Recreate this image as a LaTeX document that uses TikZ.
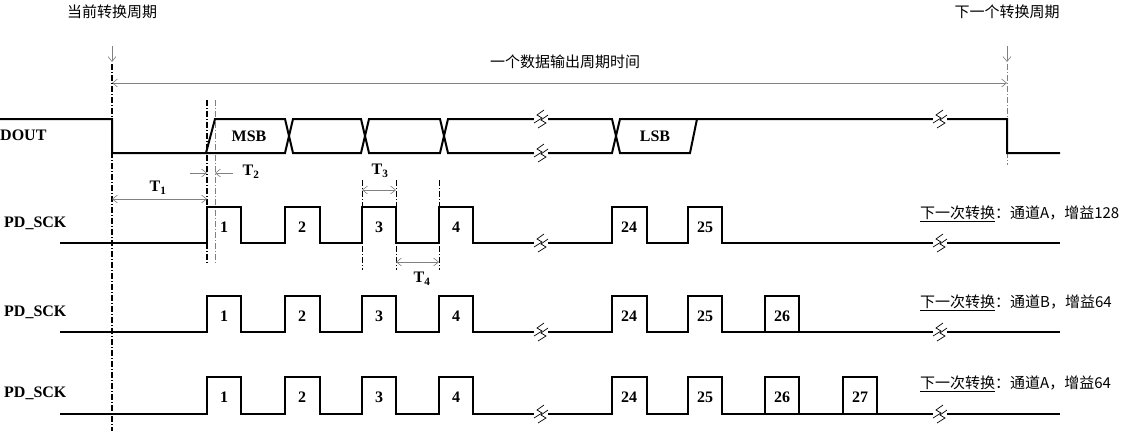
\documentclass[tikz,border=0pt]{standalone}
\usepackage{fontspec}
\setmainfont{Liberation Serif}
\newfontfamily\cjk{Noto Sans CJK SC}
\usetikzlibrary{arrows.meta}
\begin{document}
\begin{tikzpicture}[x=1pt,y=-1pt,
  sig/.style={line width=2pt,line join=miter},
  dim/.style={gray,line width=0.6pt,{Straight Barb[length=5pt,width=8pt]}-{Straight Barb[length=5pt,width=8pt]}},
  onearr/.style={gray,line width=0.6pt,-{Straight Barb[length=5pt,width=8pt]}},
  dd/.style={line width=0.6pt,dash pattern=on 6pt off 2pt on 1pt off 2pt},
  lbl/.style={font=\bfseries\fontsize{16}{16}\selectfont,inner sep=0pt},
  cn/.style={font=\cjk\fontsize{15}{15}\selectfont,inner sep=0pt},
  brk/.pic={\fill[white](-7,-10) rectangle (7,10);
    \draw[line width=0.7pt](-7,4)--(1,-1)--(-4,-4)--(3,-9);
    \draw[line width=0.7pt](-3,9)--(5,4)--(0,1)--(7,-4);}]
\useasboundingbox (0,0) rectangle (1147,431);
% top labels
\node[cn] (cur) at (112,12) {当前转换周期};
\node[cn] (nxt) at (1007,12) {下一个转换周期};
\node[cn] (per) at (565,62) {一个数据输出周期时间};
\coordinate (a1) at (112,46); \coordinate (a1e) at (112,62);
\coordinate (a2) at (1007,46); \coordinate (a2e) at (1007,62);
\draw[onearr] (a1)--(a1e);
\draw[onearr] (a2)--(a2e);
\coordinate (p1) at (112,83); \coordinate (p2) at (1007,83);
\draw[dim] (p1)--(p2);
% vertical reference lines
\draw[line width=1.3pt,dash pattern=on 6pt off 2pt on 1pt off 2pt] (112,64)--(112,431);
\draw[gray,dd] (1007,64)--(1007,165);
\draw[line width=1.3pt,dash pattern=on 6pt off 2pt on 1pt off 2pt] (207,100)--(207,264);
\draw[gray,dd] (215,100)--(215,264);
% DOUT
\node[lbl,anchor=west] (dl) at (0,135) {DOUT};
\draw[sig] (0,119)--(112,119)--(112,153)--(206,153)--(215,119)--(285,119)--(293,153)--(361,153)--(369,119)--(440,119)--(448,153)--(612,153)--(620,119)--(697,119)--(1007,119)--(1007,153)--(1060,153);
\draw[sig] (206,153)--(285,153)--(293,119)--(361,119)--(369,153)--(440,153)--(448,119)--(612,119)--(620,153)--(690,153)--(697,119);
\node[lbl] (msb) at (249,136) {MSB};
\node[lbl] (lsb) at (655,136) {LSB};
\pic at (541,119) {brk}; \pic at (541,153) {brk}; \pic at (940,119) {brk};
% timing marks
\coordinate (t2a) at (190,173); \coordinate (t2b) at (207,173);
\coordinate (t2c) at (233,173); \coordinate (t2d) at (215,173);
\draw[onearr] (t2a)--(t2b); \draw[onearr] (t2c)--(t2d);
\node[lbl] (T2) at (251,172) {T\textsubscript{2}};
\coordinate (t1a) at (112,199); \coordinate (t1b) at (207,199);
\draw[dim] (t1a)--(t1b);
\node[lbl] (T1) at (158,188) {T\textsubscript{1}};
\draw[dd] (362,180)--(362,270); \draw[dd] (396,180)--(396,270); \draw[dd] (439,180)--(439,270);
\coordinate (t3a) at (362,190); \coordinate (t3b) at (396,190);
\draw[dim] (t3a)--(t3b);
\node[lbl] (T3) at (380,171) {T\textsubscript{3}};
\coordinate (t4a) at (396,262); \coordinate (t4b) at (439,262);
\draw[dim] (t4a)--(t4b);
\node[lbl] (T4) at (422,279) {T\textsubscript{4}};
% SCK rows
\foreach \hi/\lo/\n/\txt [count=\r] in {207/243/25/{通道A，增益128},296/332/26/{通道B，增益64},377/414/27/{通道A，增益64}}{
  \pgfmathsetmacro\mid{(\hi+\lo)/2}
  \node[lbl,anchor=west] (pd\r) at (4,\mid-2) {PD\_SCK};
  \draw[sig] (60,\lo)--(207,\lo)--(207,\hi)--(241,\hi)--(241,\lo)
    --(285,\lo)--(285,\hi)--(320,\hi)--(320,\lo)
    --(362,\lo)--(362,\hi)--(396,\hi)--(396,\lo)
    --(439,\lo)--(439,\hi)--(473,\hi)--(473,\lo)
    --(612,\lo)--(612,\hi)--(647,\hi)--(647,\lo)
    --(688,\lo)--(688,\hi)--(722,\hi)--(722,\lo)--(1060,\lo);
  \ifnum\n>25 \fill[white](724,\lo-2) rectangle (765,\lo+2);
    \draw[sig](722,\lo)--(765,\lo)--(765,\hi)--(799,\hi)--(799,\lo)--(843,\lo); \fi
  \ifnum\n>26 \draw[sig](843,\lo)--(843,\hi)--(877,\hi)--(877,\lo)--(880,\lo); \fi
  \pic at (541,\lo) {brk}; \pic at (940,\lo) {brk};
  \node[lbl] at (224,\mid+2) {1}; \node[lbl] at (302,\mid+2) {2};
  \node[lbl] at (379,\mid+2) {3}; \node[lbl] at (456,\mid+2) {4};
  \node[lbl] at (629,\mid+2) {24}; \node[lbl] at (705,\mid+2) {25};
  \ifnum\n>25 \node[lbl] at (782,\mid+2) {26}; \fi
  \ifnum\n>26 \node[lbl] at (860,\mid+2) {27}; \fi
  \node[cn,anchor=west] (nx\r) at (920,\hi+7) {\underline{下一次转换}：\txt};
}
\end{tikzpicture}
\end{document}
